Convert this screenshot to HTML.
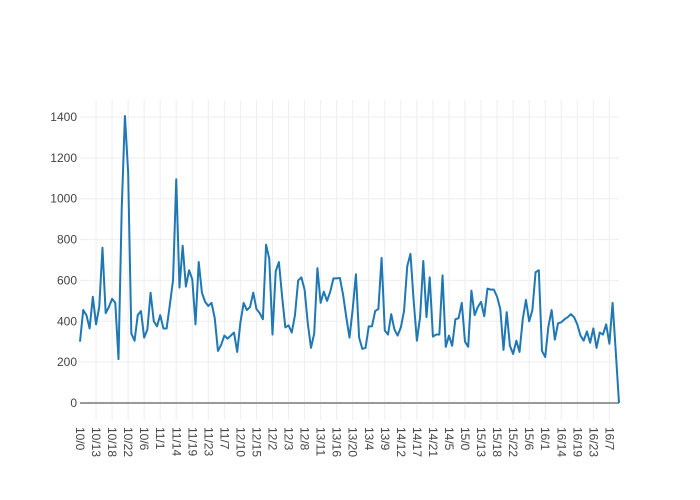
<!DOCTYPE html>
<html><head><meta charset="utf-8"><style>
html,body{margin:0;padding:0;background:#fff;}
svg{display:block;font-family:"Liberation Sans",sans-serif;}
</style></head><body>
<svg id="chart" width="700" height="500" viewBox="0 0 700 500">
<g id="grid"></g>
<g id="yaxis"></g>
<g id="xaxis"></g>
<g id="series"></g>
</svg>
<script>
const dayList = [10,11,12,13,14,15,16];
const extraCategories = ["17/0"];
const values = [300,455,430,365,520,385,470,760,440,470,510,490,215,950,1405,1130,340,305,430,450,
320,360,540,400,375,430,365,365,480,600,1095,565,770,570,650,605,385,690,540,495,
475,490,415,255,285,330,315,330,345,250,395,490,455,470,540,460,440,410,775,705,
335,645,690,520,370,380,345,430,600,615,555,390,270,340,660,490,545,500,545,610,
610,612,530,420,320,460,630,320,265,270,375,375,450,460,710,355,335,435,360,330,
370,450,670,730,500,305,420,695,420,615,325,335,335,625,275,330,280,410,415,490,
300,275,550,430,470,495,425,560,555,555,520,460,260,445,280,240,305,250,410,505,
400,455,640,650,255,225,375,455,310,390,395,410,420,435,420,385,330,305,350,295,
365,270,345,335,385,290,490,250,0];
const yTicks = [0,200,400,600,800,1000,1200,1400];
const tickEvery = 5;

const hours = [];
for (let h=0; h<24; h++) hours.push(String(h));
hours.sort();
const categories = [];
dayList.forEach(d => hours.forEach(h => categories.push(d + "/" + h)));
extraCategories.forEach(c => categories.push(c));

const NS = "http://www.w3.org/2000/svg";
const X0 = 80, X1 = 619, Y0 = 403, YTOP = 117, YMAXV = 1400;
const n = values.length;
const xs = i => X0 + (X1 - X0) * i / (n - 1);
const ys = v => Y0 - (Y0 - YTOP) * v / YMAXV;
function mk(tag, attrs, parent){const e=document.createElementNS(NS,tag);for(const k in attrs)e.setAttribute(k,attrs[k]);parent.appendChild(e);return e;}
const grid=document.getElementById('grid'), yax=document.getElementById('yaxis'), xax=document.getElementById('xaxis'), ser=document.getElementById('series');

yTicks.forEach(t => {
  if (t !== 0) {
    const l = mk('line',{x1:X0,x2:X1,y1:ys(t),y2:ys(t),stroke:'#eeeeee','stroke-width':1},grid);
    
    
  }
  const tx = mk('text',{x:77,y:ys(t)+4,'text-anchor':'end','font-size':12,fill:'#444'},yax);
  tx.textContent = t;
  
  
});
for (let i=0;i<n;i+=tickEvery){
  if (i>0){
    const g = mk('line',{x1:xs(i),x2:xs(i),y1:100,y2:420,stroke:'#eeeeee','stroke-width':1},grid);
    
    
  }
  const tx = mk('text',{x:0,y:0,'font-size':12,fill:'#444',transform:`translate(${xs(i)-4},427) rotate(90)`},xax);
  tx.textContent = categories[i];
  
  
}
const zl = mk('line',{x1:X0,x2:X1,y1:Y0,y2:Y0,stroke:'#999','stroke-width':2},grid);



const pts = values.map((v,i)=>xs(i).toFixed(2)+','+ys(v).toFixed(2)).join(' ');
const pl = mk('polyline',{points:pts,fill:'none',stroke:'#1f77b4','stroke-width':2,'stroke-linejoin':'round'},ser);


</script>
</body></html>
